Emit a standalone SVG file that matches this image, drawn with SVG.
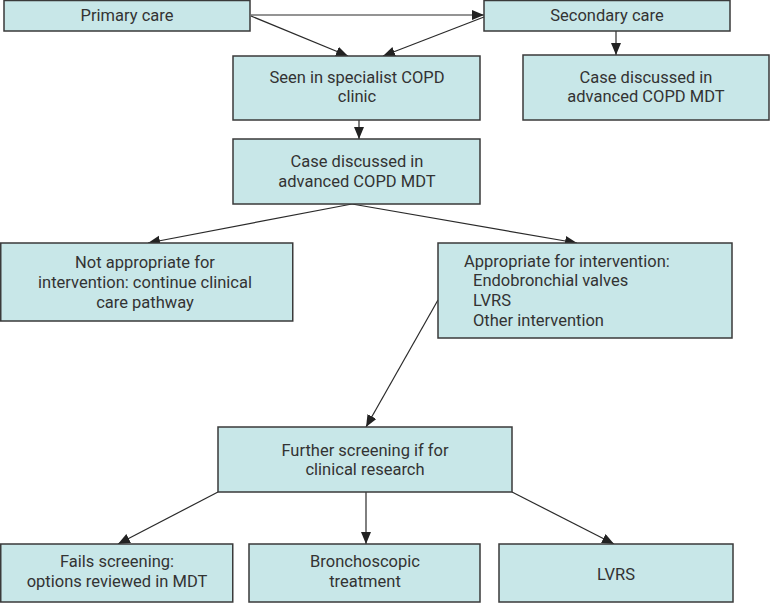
<svg xmlns="http://www.w3.org/2000/svg" width="770" height="603" viewBox="0 0 770 603">
<style>
.box{fill:#c8e7e8;stroke:#3a3a3a;stroke-width:1.5}
.t{font-family:Roboto,"Liberation Sans",sans-serif;font-size:16.5px;fill:#333;text-anchor:middle}
.l{text-anchor:start}
.c{fill:none;stroke:#2a2a2a;stroke-width:1.2;marker-end:url(#ah)}
</style>
<defs>
<marker id="ah" markerUnits="userSpaceOnUse" markerWidth="14" markerHeight="12" refX="12" refY="5" orient="auto">
<path d="M0,0 L12,5 L0,10 Z" fill="#222"/>
</marker>
</defs>
<rect width="770" height="603" fill="#fff"/>
<g id="connectors">
<line class="c" x1="251" y1="15" x2="484" y2="15"/>
<line class="c" x1="251" y1="16" x2="348" y2="56"/>
<line class="c" x1="484" y1="17" x2="383" y2="56"/>
<line class="c" x1="616" y1="31" x2="616" y2="55"/>
<line class="c" x1="359" y1="120" x2="359" y2="139"/>
<line class="c" x1="352" y1="204" x2="148" y2="243"/>
<line class="c" x1="352" y1="204" x2="577" y2="243"/>
<line class="c" x1="438" y1="300" x2="366" y2="427"/>
<line class="c" x1="218" y1="492" x2="118" y2="544"/>
<line class="c" x1="366" y1="492" x2="366" y2="544"/>
<line class="c" x1="512" y1="492" x2="614" y2="544"/>
</g>
<g id="primary">
<rect class="box" x="4" y="0.5" width="246" height="30.5"/>
<text class="t" x="127" y="21">Primary care</text>
</g>
<g id="secondary">
<rect class="box" x="484" y="0.5" width="246" height="30.5"/>
<text class="t" x="607" y="21">Secondary care</text>
</g>
<g id="seen">
<rect class="box" x="233" y="56" width="247" height="64"/>
<text class="t" x="357" y="83">Seen in specialist COPD</text>
<text class="t" x="357" y="102">clinic</text>
</g>
<g id="mdt-secondary">
<rect class="box" x="523" y="55" width="246" height="65"/>
<text class="t" x="646" y="83">Case discussed in</text>
<text class="t" x="646" y="102">advanced COPD MDT</text>
</g>
<g id="mdt">
<rect class="box" x="233" y="139" width="247" height="65"/>
<text class="t" x="357" y="167">Case discussed in</text>
<text class="t" x="357" y="187">advanced COPD MDT</text>
</g>
<g id="not-appropriate">
<rect class="box" x="0.75" y="243" width="292" height="78"/>
<text class="t" x="145" y="268">Not appropriate for</text>
<text class="t" x="145" y="288">intervention: continue clinical</text>
<text class="t" x="145" y="308">care pathway</text>
</g>
<g id="appropriate">
<rect class="box" x="438" y="243" width="294" height="95"/>
<text class="t l" x="464" y="267">Appropriate for intervention:</text>
<text class="t l" x="473" y="286">Endobronchial valves</text>
<text class="t l" x="473" y="306">LVRS</text>
<text class="t l" x="473" y="326">Other intervention</text>
</g>
<g id="further">
<rect class="box" x="218" y="427" width="294" height="65"/>
<text class="t" x="365" y="456">Further screening if for</text>
<text class="t" x="365" y="475">clinical research</text>
</g>
<g id="fails">
<rect class="box" x="0.75" y="544" width="232" height="58"/>
<text class="t" x="117" y="567">Fails screening:</text>
<text class="t" x="117" y="587">options reviewed in MDT</text>
</g>
<g id="bronchoscopic">
<rect class="box" x="249" y="544" width="231" height="58"/>
<text class="t" x="365" y="567">Bronchoscopic</text>
<text class="t" x="365" y="587">treatment</text>
</g>
<g id="lvrs">
<rect class="box" x="499" y="544" width="234" height="58"/>
<text class="t" x="616" y="580">LVRS</text>
</g>
</svg>
